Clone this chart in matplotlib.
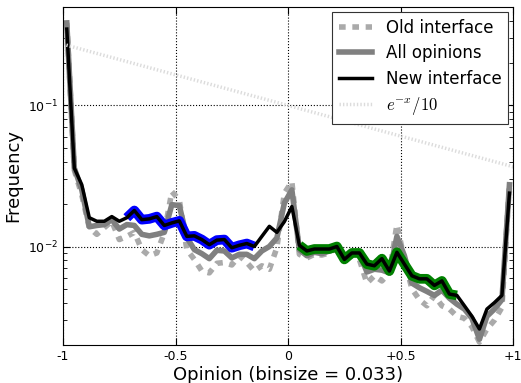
import numpy as np
import matplotlib
matplotlib.use("Agg")
import matplotlib.pyplot as plt

# bin centres, binsize 1/30
nbins = 60
binsize = 2.0 / nbins
x = -1 + binsize / 2 + binsize * np.arange(nbins)

old_iface = [0.385, 0.0348, 0.0232, 0.0136, 0.0122, 0.0136, 0.0151, 0.0112, 0.0118, 0.0126,
             0.0095, 0.0086, 0.0090, 0.0125, 0.0245, 0.0214, 0.0095, 0.0081, 0.0067, 0.0065,
             0.0076, 0.0077, 0.0074, 0.0086, 0.0077, 0.0067, 0.0073, 0.0069, 0.0098, 0.0239,
             0.0288, 0.0088, 0.0083, 0.0088, 0.0087, 0.0090, 0.0098, 0.0079, 0.0087, 0.0081,
             0.0055, 0.0062, 0.0057, 0.0065, 0.0143, 0.0081, 0.0050, 0.0042, 0.0038, 0.0045,
             0.0038, 0.0036, 0.0032, 0.0031, 0.0027, 0.0021, 0.0026, 0.0030, 0.0037, 0.0282]

all_opinions = [0.385, 0.0360, 0.0252, 0.0138, 0.0141, 0.0143, 0.0155, 0.0133, 0.0143, 0.0141,
                0.0122, 0.0119, 0.0122, 0.0126, 0.0198, 0.0195, 0.0116, 0.0095, 0.0089, 0.0082,
                0.0094, 0.0093, 0.0083, 0.0088, 0.0088, 0.0082, 0.0093, 0.0100, 0.0115, 0.0203,
                0.0252, 0.0095, 0.0086, 0.0091, 0.0089, 0.0093, 0.0096, 0.0079, 0.0089, 0.0089,
                0.0066, 0.0069, 0.0068, 0.0065, 0.0118, 0.0086, 0.0055, 0.0051, 0.0048, 0.0045,
                0.0049, 0.0043, 0.0039, 0.0036, 0.0031, 0.0022, 0.0032, 0.0036, 0.0042, 0.0274]

new_iface = [0.348, 0.0360, 0.0274, 0.0160, 0.0151, 0.0151, 0.0163, 0.0151, 0.0160, 0.0180,
             0.0155, 0.0157, 0.0163, 0.0141, 0.0147, 0.0152, 0.0118, 0.0119, 0.0112, 0.0103,
             0.0111, 0.0112, 0.0098, 0.0102, 0.0105, 0.0100, 0.0118, 0.0139, 0.0126, 0.0150,
             0.0192, 0.0102, 0.0093, 0.0096, 0.0096, 0.0096, 0.0100, 0.0081, 0.0090, 0.0090,
             0.0075, 0.0073, 0.0082, 0.0067, 0.0091, 0.0075, 0.0062, 0.0059, 0.0059, 0.0053,
             0.0057, 0.0046, 0.0045, 0.0038, 0.0032, 0.0026, 0.0036, 0.0040, 0.0045, 0.0239]

# highlighted stretches of the new-interface curve (bin indices)
blue_bins = (8, 26)
green_bins = (31, 53)

xticks = [-1, -0.5, 0, 0.5, 1]
xticklabels = ["-1", "-0.5", "0", "+0.5", "+1"]

new_iface = np.array(new_iface)

fig = plt.figure(figsize=(5.21, 3.83), dpi=100)
ax = fig.add_axes([0.121, 0.099, 0.864, 0.883])

xe = np.linspace(-1, 1, 200)
ax.plot(x, old_iface, '--', color='#aaaaaa', lw=4, dashes=(1.2, 1.2), label='Old interface')
ax.plot(x, all_opinions, '-', color='#808080', lw=4, label='All opinions')
b0, b1 = blue_bins
ax.plot(x[b0:b1], new_iface[b0:b1], '-', color='#0000ff', lw=7, solid_capstyle='butt')
g0, g1 = green_bins
ax.plot(x[g0:g1], new_iface[g0:g1], '-', color='#008000', lw=7, solid_capstyle='butt')
ax.plot(x, new_iface, '-', color='black', lw=2.5, label='New interface')
ax.plot(xe, np.exp(-xe) / 10, color='#dcdcdc', lw=2.5, dashes=(0.4, 0.6), label=r'$e^{-x}/10$')

ax.set_yscale('log')
ax.set_xlim(-1, 1)
ax.set_ylim(0.002, 0.5)
ax.set_xticks(xticks)
ax.set_xticklabels(xticklabels)
ax.grid(True, which='major', color='black', linestyle=':', lw=0.8)
ax.tick_params(which='both', direction='in', top=True, right=True, labelsize=9)
ax.tick_params(which='major', length=5)
ax.tick_params(which='minor', length=3)
ax.set_xlabel('Opinion (binsize = 0.033)', fontsize=13, labelpad=2)
ax.set_ylabel('Frequency', fontsize=13)

leg = ax.legend(loc='upper right', fontsize=12, fancybox=False, framealpha=1,
                edgecolor='#333333', handlelength=2, borderaxespad=0.3,
                labelspacing=0.45, handletextpad=0.8, borderpad=0.4)
leg.get_frame().set_linewidth(0.8)
leg.get_texts()[3].set_math_fontfamily('cm')

fig.savefig('out.png', dpi=100)
